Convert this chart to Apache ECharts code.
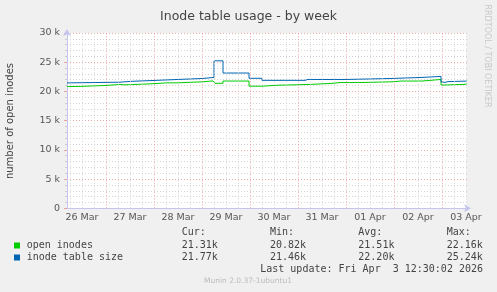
<!DOCTYPE html>
<html><head><meta charset="utf-8">
<script src="https://cdn.jsdelivr.net/npm/echarts@6/dist/echarts.min.js"></script>
<style>html,body{margin:0;padding:0;background:#f0f0f0}#c{width:497px;height:292px}</style>
</head><body><div id="c"></div>
<script>
// time unit: hours after 26 Mar 2026 00:00
const startHour = 4.5, endHour = 204.5;
const dayLabels = ['26 Mar','27 Mar','28 Mar','29 Mar','30 Mar','31 Mar','01 Apr','02 Apr','03 Apr'];
const dayLabelHours = [12,36,60,84,108,132,156,180,204];

const openTimes  = [4.5, 10, 24, 31, 33, 46.5, 54.5, 55.5, 59.5, 72, 77.5, 78.5, 82.5, 95.5, 102, 110, 126, 137, 141, 142, 150.5, 167.5, 171.5, 172.5, 182, 191.5, 193.5, 194.5, 204, 204.5];
const openValues = [20.85, 21.02, 21.20, 21.12, 21.30, 21.47, 21.60, 21.47, 21.64, 21.80, 21.55, 21.39, 21.78, 20.90, 21.06, 21.20, 21.38, 21.52, 21.42, 21.52, 21.65, 21.78, 21.70, 21.78, 22.05, 21.10, 21.05, 21.22, 21.31, 21.31];

const tableTimes  = [4.5, 5.5, 31, 36, 48, 60, 72.5, 78, 82.5, 95.5, 102, 123.5, 125, 126, 144, 167, 182, 191.5, 192.5, 193.5, 195, 204.5];
const tableValues = [21.46, 21.58, 21.72, 21.88, 22.05, 22.22, 22.40, 25.24, 23.15, 22.25, 21.90, 22.05, 22.12, 22.05, 22.22, 22.40, 22.57, 21.65, 21.55, 21.68, 21.77, 21.77];

const yMax = 30000, yStep = 5000;
const seriesNames = ['open inodes', 'inode table size'];
const seriesColors = ['#00cc00', '#0066b3'];
const curValues = ['21.31k', '21.77k'];
const minValues = ['20.82k', '21.46k'];
const avgValues = ['21.51k', '22.20k'];
const maxValues = ['22.16k', '25.24k'];
const lastUpdate = 'Last update: Fri Apr  3 12:30:02 2026';

const toPairs = (t, v) => t.map((x, i) => [x, v[i] * 1000]);

const gridLines = [];
for (let h = 6; h <= 204; h += 6) {
  const major = h % 24 === 0;
  gridLines.push({ xAxis: h, lineStyle: { color: major ? 'rgba(225,110,110,0.6)' : '#d4d4d4', type: [1, 2], width: 1 } });
}

const chart = echarts.init(document.getElementById('c'), null, { renderer: 'canvas' });
const mono = 'DejaVu Sans Mono';
const txtColor = '#444';
const graphics = [];
const cols = [181.7, 270, 358.3, 446.7];
['Cur:', 'Min:', 'Avg:', 'Max:'].forEach((s, i) => graphics.push({ type: 'text', left: cols[i], top: 227, style: { text: s, font: '10px ' + mono, fill: txtColor } }));
const rowsY = [240, 252];
seriesNames.forEach((n, r) => {
  graphics.push({ type: 'rect', shape: { x: 14, y: rowsY[r] + 2.5, width: 6, height: 6 }, style: { fill: seriesColors[r] } });
  graphics.push({ type: 'text', left: 26.7, top: rowsY[r], style: { text: n, font: '10px ' + mono, fill: txtColor } });
  [curValues, minValues, avgValues, maxValues].forEach((arr, i) => graphics.push({ type: 'text', left: cols[i], top: rowsY[r], style: { text: arr[r], font: '10px ' + mono, fill: txtColor } }));
});
graphics.push({ type: 'text', right: 14, top: 264, style: { text: lastUpdate, font: '10px ' + mono, fill: txtColor } });
graphics.push({ type: 'text', x: 248, y: 281, style: { text: 'Munin 2.0.37-1ubuntu1', font: '7.5px DejaVu Sans', fill: '#bbb', align: 'center', verticalAlign: 'middle' } });
graphics.push({ type: 'text', x: 487, y: 56, rotation: -Math.PI / 2, style: { text: 'RRDTOOL / TOBI OETIKER', font: '8px DejaVu Sans', fill: '#c8c8c8', align: 'center', verticalAlign: 'middle' } });
graphics.push({ type: 'text', x: 10, y: 121, rotation: Math.PI / 2, style: { text: 'number of open inodes', font: '10px DejaVu Sans', fill: '#444', align: 'center', verticalAlign: 'middle' } });

chart.setOption({
  backgroundColor: '#f0f0f0',
  animation: false,
  title: { text: 'Inode table usage - by week', left: 'center', top: 5, textStyle: { fontFamily: 'DejaVu Sans', fontSize: 12.5, fontWeight: 'normal', color: '#444' } },
  grid: { left: 67, top: 33, width: 400, height: 175.3, show: true, backgroundColor: '#fff', borderWidth: 0, containLabel: false },
  xAxis: {
    type: 'value', min: startHour, max: endHour,
    axisLine: { show: true, lineStyle: { color: '#c4c4ee', width: 1 }, symbol: ['none', 'arrow'], symbolSize: [6, 7], symbolOffset: [0, 4] },
    axisTick: { show: false },
    splitLine: { show: false },
    axisLabel: { customValues: dayLabelHours, formatter: v => dayLabels[dayLabelHours.indexOf(v)] || '', fontFamily: 'DejaVu Sans', fontSize: 9.5, color: '#555', margin: 4 }
  },
  yAxis: {
    type: 'value', min: 0, max: yMax, interval: yStep,
    axisLine: { show: true, onZero: false, lineStyle: { color: '#c4c4ee', width: 1 }, symbol: ['none', 'arrow'], symbolSize: [6, 7], symbolOffset: [0, 4] },
    axisTick: { show: true, length: 3, lineStyle: { color: 'rgba(225,110,110,0.6)' } },
    minorTick: { show: true, splitNumber: 5, length: 2, lineStyle: { color: '#ccc' } },
    splitLine: { show: true, lineStyle: { color: 'rgba(225,110,110,0.6)', type: [1, 2], width: 1 } },
    minorSplitLine: { show: true, lineStyle: { color: '#d4d4d4', type: [1, 2], width: 1 } },
    axisLabel: { formatter: v => v === 0 ? '0' : (v / 1000) + ' k', fontFamily: 'DejaVu Sans', fontSize: 9.5, color: '#555', margin: 7 }
  },
  graphic: graphics,
  series: [
    { type: 'line', name: 'grid', data: [], silent: true, z: 1, markLine: { silent: true, symbol: 'none', label: { show: false }, data: gridLines, animation: false } },
    { type: 'line', name: seriesNames[0], data: toPairs(openTimes, openValues), step: 'end', showSymbol: false, lineStyle: { color: seriesColors[0], width: 1 }, itemStyle: { color: seriesColors[0] }, z: 3 },
    { type: 'line', name: seriesNames[1], data: toPairs(tableTimes, tableValues), step: 'end', showSymbol: false, lineStyle: { color: seriesColors[1], width: 1 }, itemStyle: { color: seriesColors[1] }, z: 3 }
  ]
});
</script></body></html>
